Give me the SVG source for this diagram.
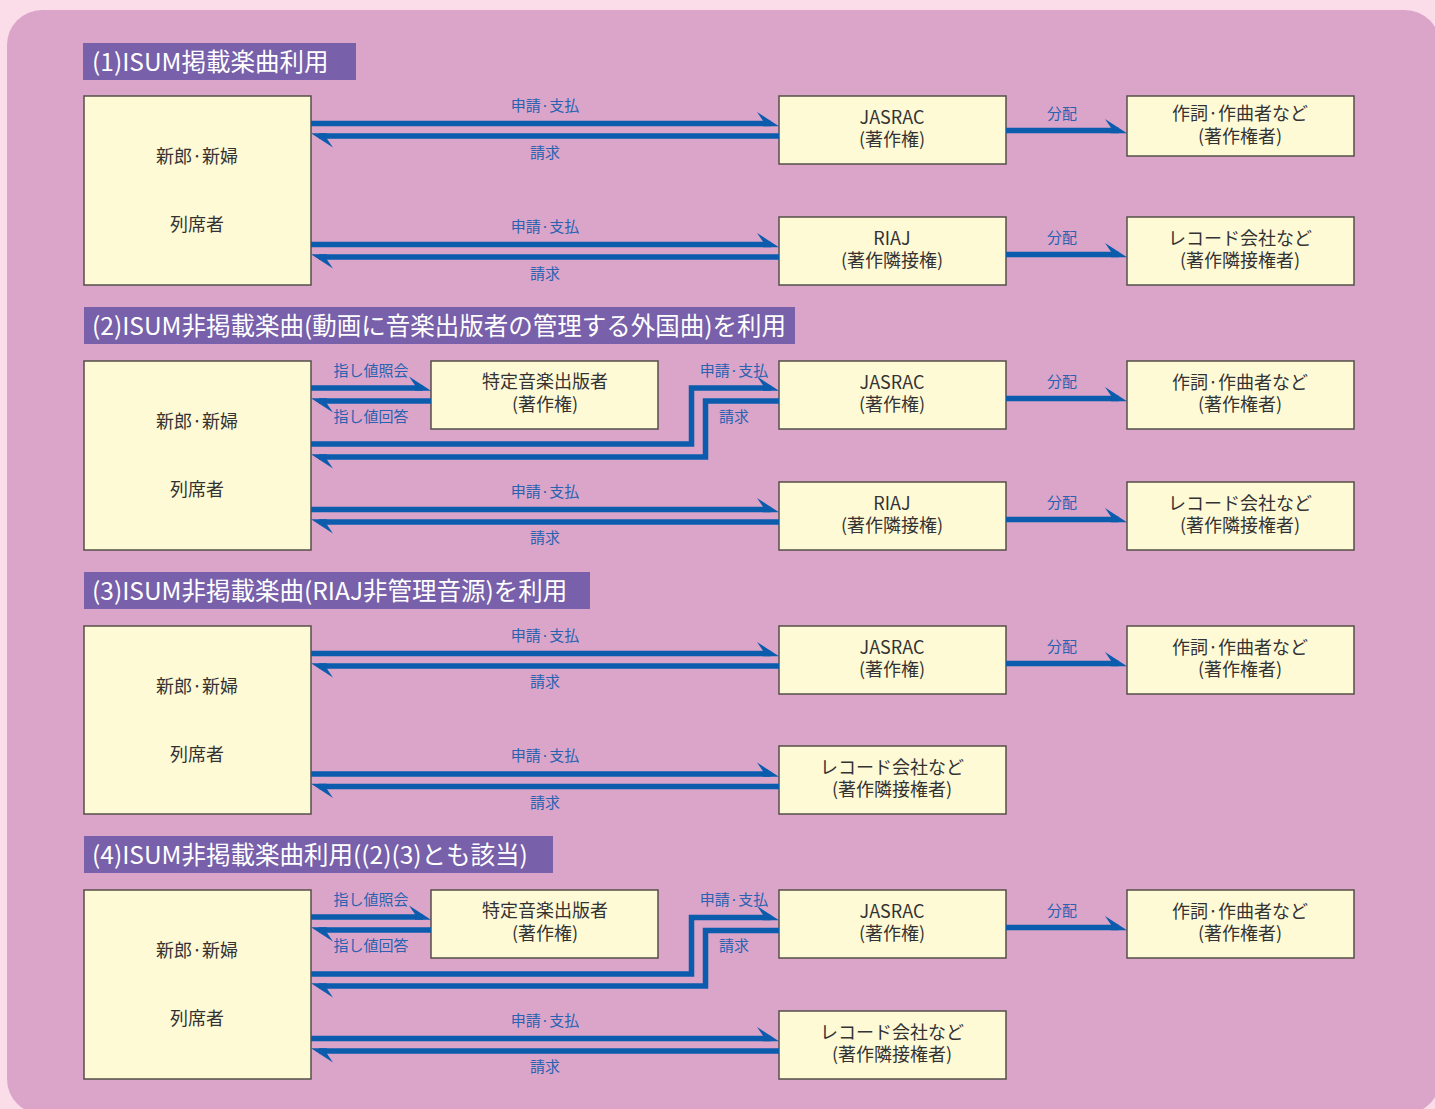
<svg xmlns="http://www.w3.org/2000/svg" width="1435" height="1109" viewBox="0 0 1435 1109">
<style>
.hdr{fill:#7860AA}
.hdrt{fill:#FFFFFF;font-family:"Noto Sans CJK JP","Noto Sans",sans-serif;font-size:24.5px;dominant-baseline:central;transform:translate(0px,-1.5px)}
.box{fill:#FFFAD6;stroke:#555048;stroke-width:1.5}
.bt{fill:#333333;font-family:"Noto Sans CJK JP","Noto Sans",sans-serif;font-size:18px;text-anchor:middle;dominant-baseline:central;transform:translate(0px,-1.5px)}
.lbl{fill:#2862B0;font-family:"Noto Sans CJK JP","Noto Sans",sans-serif;font-size:15px;text-anchor:middle;dominant-baseline:central;transform:translate(0px,-1.5px)}
.ar{fill:none;stroke:#0B5CAD;stroke-width:5.5;stroke-linejoin:miter;marker-end:url(#ah)}
</style>
<defs>
<marker id="ah" markerUnits="userSpaceOnUse" orient="auto" viewBox="-20 -20 40 40" markerWidth="40" markerHeight="40" refX="0" refY="0" overflow="visible">
<path d="M-8,-2.75 L-14,-11.5 L8,2.75 L-8,2.75 Z" fill="#0B5CAD"/>
</marker>
</defs>
<rect x="0" y="0" width="1435" height="1109" fill="#FBDDEA"/>
<rect x="7" y="10" width="1433" height="1104" rx="35" ry="35" fill="#DBA4C9"/>

<!-- Section 1 -->
<g id="hdr1"><rect class="hdr" x="83" y="43" width="273" height="37"/><text class="hdrt" x="92" y="61.5">(1)ISUM掲載楽曲利用</text></g>
<g id="s1-guest"><rect class="box" x="84" y="96" width="227" height="189"/><text class="bt" x="197" y="156">新郎·新婦</text><text class="bt" x="197" y="224">列席者</text></g>
<g id="s1-jasrac"><rect class="box" x="779" y="96" width="227" height="68"/><text class="bt" x="892" y="117">JASRAC</text><text class="bt" x="892" y="139">(著作権)</text></g>
<g id="s1-author"><rect class="box" x="1127" y="96" width="227" height="60"/><text class="bt" x="1240" y="113">作詞·作曲者など</text><text class="bt" x="1240" y="136">(著作権者)</text></g>
<g id="s1-riaj"><rect class="box" x="779" y="217" width="227" height="68"/><text class="bt" x="892" y="238">RIAJ</text><text class="bt" x="892" y="260">(著作隣接権)</text></g>
<g id="s1-record"><rect class="box" x="1127" y="217" width="227" height="68"/><text class="bt" x="1240" y="238">レコード会社など</text><text class="bt" x="1240" y="260">(著作隣接権者)</text></g>

<!-- Section 2 -->
<g id="hdr2"><rect class="hdr" x="84" y="307" width="711" height="37"/><text class="hdrt" x="92" y="325.5">(2)ISUM非掲載楽曲(動画に音楽出版者の管理する外国曲)を利用</text></g>
<g id="s2-guest"><rect class="box" x="84" y="361" width="227" height="189"/><text class="bt" x="197" y="421">新郎·新婦</text><text class="bt" x="197" y="489">列席者</text></g>
<g id="s2-publisher"><rect class="box" x="431" y="361" width="227" height="68"/><text class="bt" x="545" y="381">特定音楽出版者</text><text class="bt" x="545" y="404">(著作権)</text></g>
<g id="s2-jasrac"><rect class="box" x="779" y="361" width="227" height="68"/><text class="bt" x="892" y="382">JASRAC</text><text class="bt" x="892" y="404">(著作権)</text></g>
<g id="s2-author"><rect class="box" x="1127" y="361" width="227" height="68"/><text class="bt" x="1240" y="382">作詞·作曲者など</text><text class="bt" x="1240" y="404">(著作権者)</text></g>
<g id="s2-riaj"><rect class="box" x="779" y="482" width="227" height="68"/><text class="bt" x="892" y="503">RIAJ</text><text class="bt" x="892" y="525">(著作隣接権)</text></g>
<g id="s2-record"><rect class="box" x="1127" y="482" width="227" height="68"/><text class="bt" x="1240" y="503">レコード会社など</text><text class="bt" x="1240" y="525">(著作隣接権者)</text></g>

<!-- Section 3 -->
<g id="hdr3"><rect class="hdr" x="84" y="572" width="506" height="37"/><text class="hdrt" x="92" y="590.5">(3)ISUM非掲載楽曲(RIAJ非管理音源)を利用</text></g>
<g id="s3-guest"><rect class="box" x="84" y="626" width="227" height="188"/><text class="bt" x="197" y="686">新郎·新婦</text><text class="bt" x="197" y="754">列席者</text></g>
<g id="s3-jasrac"><rect class="box" x="779" y="626" width="227" height="68"/><text class="bt" x="892" y="647">JASRAC</text><text class="bt" x="892" y="669">(著作権)</text></g>
<g id="s3-author"><rect class="box" x="1127" y="626" width="227" height="68"/><text class="bt" x="1240" y="647">作詞·作曲者など</text><text class="bt" x="1240" y="669">(著作権者)</text></g>
<g id="s3-record"><rect class="box" x="779" y="746" width="227" height="68"/><text class="bt" x="892" y="767">レコード会社など</text><text class="bt" x="892" y="789">(著作隣接権者)</text></g>

<!-- Section 4 -->
<g id="hdr4"><rect class="hdr" x="84" y="836" width="469" height="37"/><text class="hdrt" x="92" y="854.5">(4)ISUM非掲載楽曲利用((2)(3)とも該当)</text></g>
<g id="s4-guest"><rect class="box" x="84" y="890" width="227" height="189"/><text class="bt" x="197" y="950">新郎·新婦</text><text class="bt" x="197" y="1018">列席者</text></g>
<g id="s4-publisher"><rect class="box" x="431" y="890" width="227" height="68"/><text class="bt" x="545" y="910">特定音楽出版者</text><text class="bt" x="545" y="933">(著作権)</text></g>
<g id="s4-jasrac"><rect class="box" x="779" y="890" width="227" height="68"/><text class="bt" x="892" y="911">JASRAC</text><text class="bt" x="892" y="933">(著作権)</text></g>
<g id="s4-author"><rect class="box" x="1127" y="890" width="227" height="68"/><text class="bt" x="1240" y="911">作詞·作曲者など</text><text class="bt" x="1240" y="933">(著作権者)</text></g>
<g id="s4-record"><rect class="box" x="779" y="1011" width="227" height="68"/><text class="bt" x="892" y="1032">レコード会社など</text><text class="bt" x="892" y="1054">(著作隣接権者)</text></g>

<g id="connectors">
<!-- S1 -->
<path class="ar" d="M311,123.5 H771"/>
<path class="ar" d="M779,136 H319"/>
<path class="ar" d="M1006,130.5 H1119"/>
<path class="ar" d="M311,244.5 H771"/>
<path class="ar" d="M779,257 H319"/>
<path class="ar" d="M1006,254.5 H1119"/>
<!-- S2 -->
<path class="ar" d="M311,388 H423"/>
<path class="ar" d="M431,401 H319"/>
<path class="ar" d="M311,444 H691.5 V388 H771"/>
<path class="ar" d="M779,401 H705.5 V457 H319"/>
<path class="ar" d="M1006,398.5 H1119"/>
<path class="ar" d="M311,509.5 H771"/>
<path class="ar" d="M779,522 H319"/>
<path class="ar" d="M1006,519.5 H1119"/>
<!-- S3 -->
<path class="ar" d="M311,653.5 H771"/>
<path class="ar" d="M779,666 H319"/>
<path class="ar" d="M1006,663.5 H1119"/>
<path class="ar" d="M311,774 H771"/>
<path class="ar" d="M779,786.5 H319"/>
<!-- S4 -->
<path class="ar" d="M311,917 H423"/>
<path class="ar" d="M431,930 H319"/>
<path class="ar" d="M311,974 H691.5 V917.5 H771"/>
<path class="ar" d="M779,930.5 H705.5 V986 H319"/>
<path class="ar" d="M1006,927.5 H1119"/>
<path class="ar" d="M311,1038.5 H771"/>
<path class="ar" d="M779,1051 H319"/>

<!-- labels -->
<text class="lbl" x="545" y="106">申請·支払</text>
<text class="lbl" x="545" y="153">請求</text>
<text class="lbl" x="1062" y="114">分配</text>
<text class="lbl" x="545" y="227">申請·支払</text>
<text class="lbl" x="545" y="274">請求</text>
<text class="lbl" x="1062" y="238">分配</text>

<text class="lbl" x="371" y="371">指し値照会</text>
<text class="lbl" x="371" y="417">指し値回答</text>
<text class="lbl" x="734" y="371">申請·支払</text>
<text class="lbl" x="734" y="417">請求</text>
<text class="lbl" x="1062" y="382">分配</text>
<text class="lbl" x="545" y="492">申請·支払</text>
<text class="lbl" x="545" y="538">請求</text>
<text class="lbl" x="1062" y="503">分配</text>

<text class="lbl" x="545" y="636">申請·支払</text>
<text class="lbl" x="545" y="682">請求</text>
<text class="lbl" x="1062" y="647">分配</text>
<text class="lbl" x="545" y="756">申請·支払</text>
<text class="lbl" x="545" y="803">請求</text>

<text class="lbl" x="371" y="900">指し値照会</text>
<text class="lbl" x="371" y="946">指し値回答</text>
<text class="lbl" x="734" y="900">申請·支払</text>
<text class="lbl" x="734" y="946">請求</text>
<text class="lbl" x="1062" y="911">分配</text>
<text class="lbl" x="545" y="1021">申請·支払</text>
<text class="lbl" x="545" y="1067">請求</text>
</g>
</svg>
